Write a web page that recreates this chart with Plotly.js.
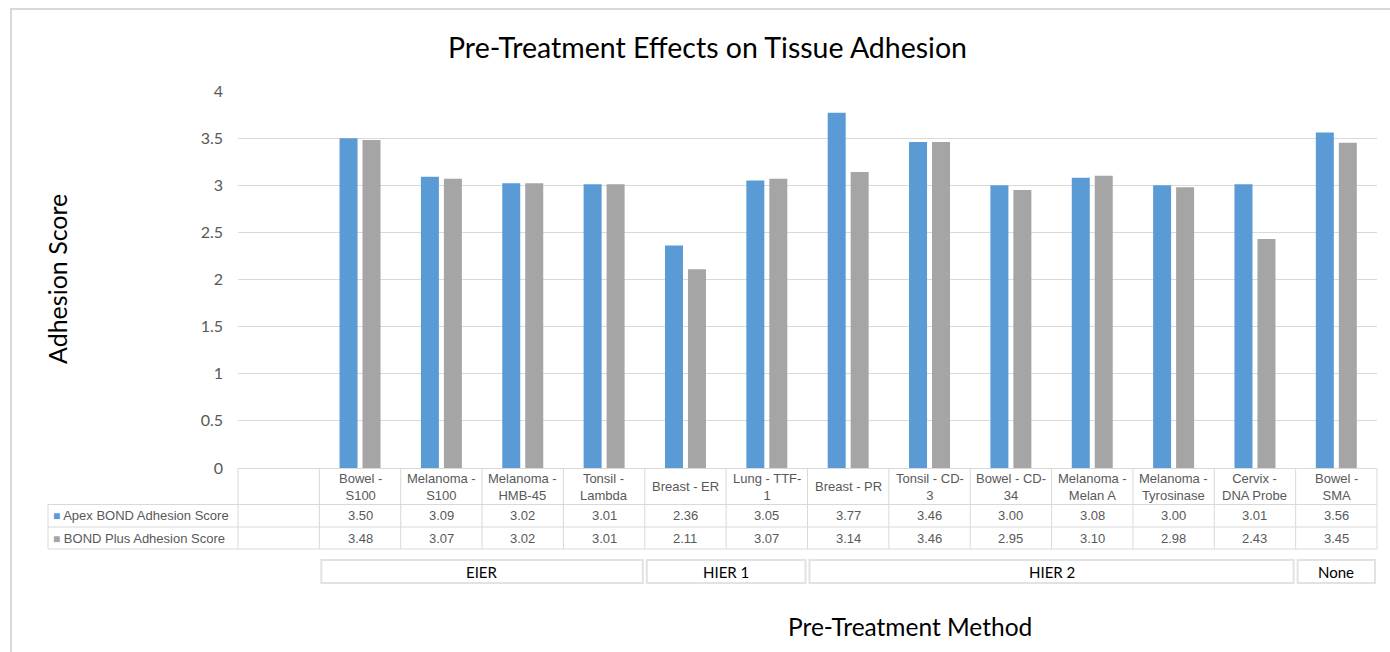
<!DOCTYPE html>
<html>
<head>
<meta charset="utf-8">
<script src="https://cdn.plot.ly/plotly-3.0.1.min.js"></script>
<style>html,body{margin:0;padding:0;background:#fff;}#chart{width:1390px;height:652px;}</style>
</head>
<body>
<div id="chart"></div>
<script>
// ---- data ----
const categories = ["Bowel -<br>S100","Melanoma -<br>S100","Melanoma -<br>HMB-45","Tonsil -<br>Lambda","Breast - ER","Lung - TTF-<br>1","Breast - PR","Tonsil - CD-<br>3","Bowel - CD-<br>34","Melanoma -<br>Melan A","Melanoma -<br>Tyrosinase","Cervix -<br>DNA Probe","Bowel -<br>SMA"];
const apexScores = [3.50,3.09,3.02,3.01,2.36,3.05,3.77,3.46,3.00,3.08,3.00,3.01,3.56];
const plusScores = [3.48,3.07,3.02,3.01,2.11,3.07,3.14,3.46,2.95,3.10,2.98,2.43,3.45];
const seriesNames = ["Apex BOND Adhesion Score","BOND Plus Adhesion Score"];
const groupNames = ["EIER","HIER 1","HIER 2","None"];
const groupSizes = [4,2,6,1];
const yTicks = [0,0.5,1,1.5,2,2.5,3,3.5,4];

// ---- layout helpers ----
const W=1390,H=652,M={l:238,r:13,t:91,b:184};
const PW=W-M.l-M.r, PH=H-M.t-M.b;
const px2x = p => (p-M.l)/PW;
const px2y = p => (H-M.b-p)/PH;
const nSlots = categories.length+1; // first slot is blank (table label column)
const xs = categories.map((c,i)=>i+1);
const bnd = j => (j+1)/nSlots; // paper x of boundary at x=j+0.5

const blue="#5B9BD5", grey="#A5A5A5", lineC="#D9D9D9", txtC="#595959";
const tableFont={family:"Liberation Sans, Arial, sans-serif",size:13,color:txtC};
const calFont="Lato, 'Open Sans', sans-serif";

const traces=[
 {type:"bar",x:xs,y:apexScores,name:seriesNames[0],marker:{color:blue},hoverinfo:"y"},
 {type:"bar",x:xs,y:plusScores,name:seriesNames[1],marker:{color:grey},hoverinfo:"y"}
];

const shapes=[];
const ann=[];
function hline(y,x0,x1,w,c){shapes.push({type:"line",xref:"paper",yref:"paper",x0:x0,x1:x1,y0:px2y(y),y1:px2y(y),line:{color:c||lineC,width:w||1}});}
function vline(x,y0,y1){shapes.push({type:"line",xref:"paper",yref:"paper",x0:x,x1:x,y0:px2y(y0),y1:px2y(y1),line:{color:lineC,width:1}});}

// outer chart border
shapes.push({type:"rect",xref:"paper",yref:"paper",x0:px2x(11),x1:px2x(1400),y0:px2y(9),y1:px2y(670),line:{color:lineC,width:2}});

// table grid
const rowTop=468.5,r1=504.5,r2=527,r3=549;
hline(rowTop,0,1);
hline(r1,px2x(48),1);hline(r2,px2x(48),1);hline(r3,px2x(48),1);
vline(px2x(48),r1,r3);
vline(0,rowTop,r3);
for(let j=0;j<=categories.length;j++){vline(bnd(j),rowTop,r3);}

// table texts
categories.forEach((c,i)=>{
  ann.push({xref:"x",yref:"paper",x:xs[i],y:px2y((rowTop+r1)/2),text:c,showarrow:false,font:tableFont,align:"center",xanchor:"center",yanchor:"middle"});
  ann.push({xref:"x",yref:"paper",x:xs[i],y:px2y((r1+r2)/2),text:apexScores[i].toFixed(2),showarrow:false,font:tableFont,xanchor:"center",yanchor:"middle"});
  ann.push({xref:"x",yref:"paper",x:xs[i],y:px2y((r2+r3)/2),text:plusScores[i].toFixed(2),showarrow:false,font:tableFont,xanchor:"center",yanchor:"middle"});
});
[[blue,seriesNames[0],(r1+r2)/2],[grey,seriesNames[1],(r2+r3)/2]].forEach(d=>{
  ann.push({xref:"paper",yref:"paper",x:px2x(51),y:px2y(d[2]),xanchor:"left",yanchor:"middle",showarrow:false,font:tableFont,
    text:'<span style="color:'+d[0]+';font-size:12px">■</span> '+d[1]});
});

// group boxes
let start=0;
groupNames.forEach((g,k)=>{
  const end=start+groupSizes[k];
  const x0=bnd(start),x1=bnd(end);
  shapes.push({type:"rect",xref:"paper",yref:"paper",x0:x0+px2x(M.l+2),x1:x1-px2x(M.l+2),y0:px2y(583),y1:px2y(560),line:{color:"#E2E2E2",width:2}});
  ann.push({xref:"paper",yref:"paper",x:(x0+x1)/2,y:px2y(572),text:g,showarrow:false,font:{family:calFont,size:15,color:"#000"},xanchor:"center",yanchor:"middle"});
  start=end;
});

// titles
ann.push({xref:"paper",yref:"paper",x:px2x(707),y:px2y(47),text:"Pre-Treatment Effects on Tissue Adhesion",showarrow:false,font:{family:calFont,size:28.5,color:"#000"},xanchor:"center",yanchor:"middle"});
ann.push({xref:"paper",yref:"paper",x:px2x(57),y:px2y(279),text:"Adhesion Score",textangle:-90,showarrow:false,font:{family:calFont,size:25,color:"#000"},xanchor:"center",yanchor:"middle"});
ann.push({xref:"paper",yref:"paper",x:px2x(910),y:px2y(626),text:"Pre-Treatment Method",showarrow:false,font:{family:calFont,size:24.5,color:"#000"},xanchor:"center",yanchor:"middle"});

const layout={
  width:W,height:H,margin:M,
  paper_bgcolor:"#fff",plot_bgcolor:"#fff",
  showlegend:false,
  bargap:0.435,bargroupgap:0.217,barmode:"group",
  xaxis:{range:[-0.5,nSlots-0.5],showticklabels:false,showgrid:false,zeroline:false,ticks:"",fixedrange:true},
  yaxis:{range:[0,4],tickvals:yTicks,ticktext:yTicks.map(String),showgrid:true,gridcolor:lineC,gridwidth:1,zeroline:false,
         tickfont:{family:calFont,size:16,color:txtC},ticks:"",ticklabelstandoff:14,fixedrange:true},
  shapes:shapes,annotations:ann,
  font:{family:calFont}
};
Plotly.newPlot("chart",traces,layout,{displayModeBar:false,staticPlot:true});
</script>
</body>
</html>
